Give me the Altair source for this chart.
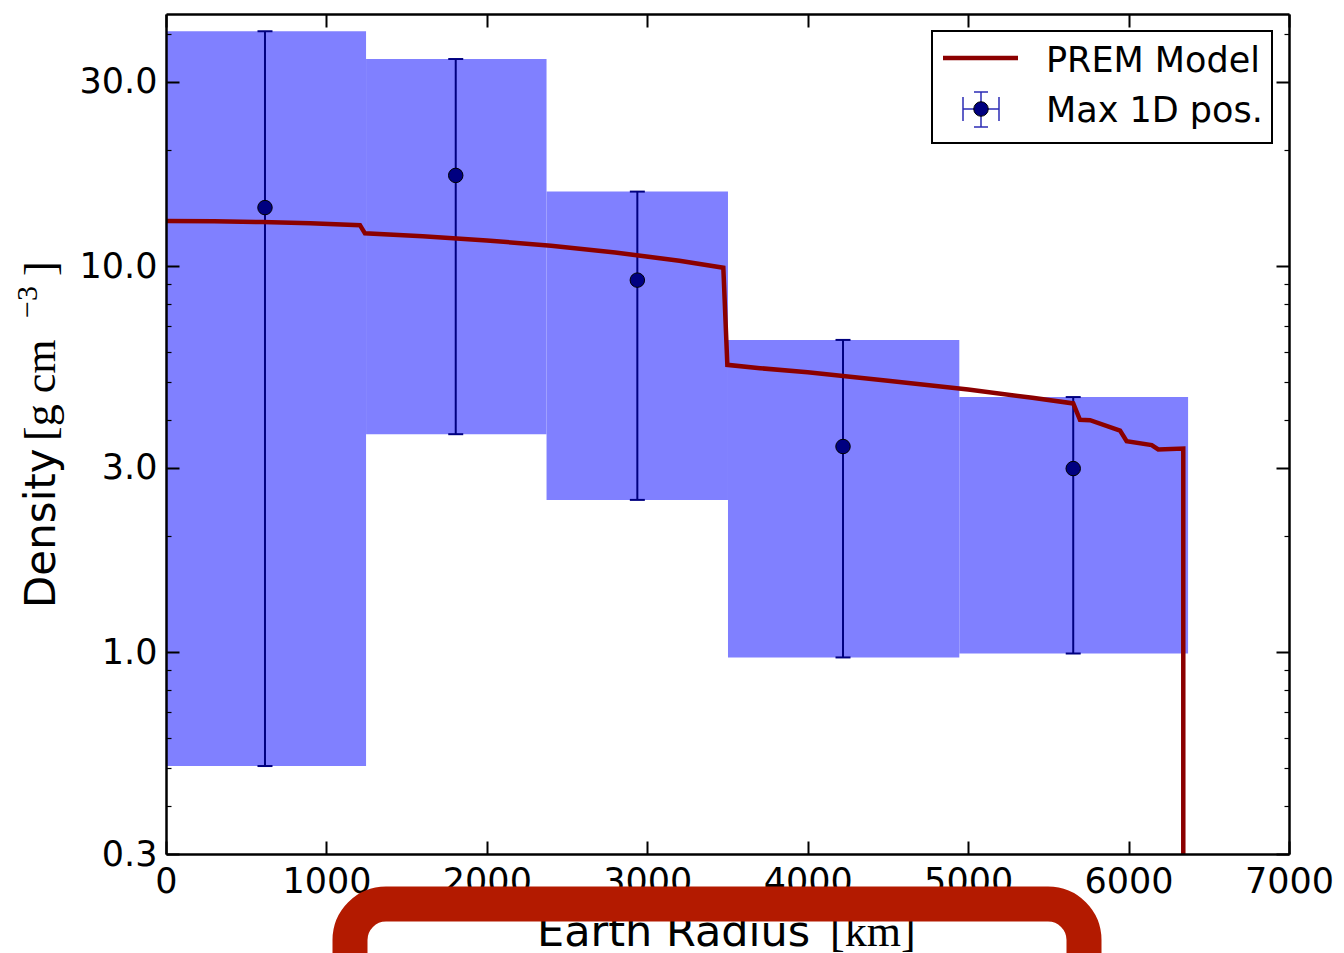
import altair as alt
import pandas as pd

# ---------------- data ----------------
bin_lo_km = [0, 1247, 2372, 3503, 4945]
bin_hi_km = [1247, 2372, 3503, 4945, 6371]
dens_lo = [0.507, 3.67, 2.48, 0.969, 0.992]
dens_hi = [40.6, 34.4, 15.6, 6.44, 4.58]
point_km = [617, 1806, 2938, 4220, 5655]
point_dens = [14.18, 17.18, 9.20, 3.41, 2.99]

prem_km = [0, 300, 600, 900, 1209, 1240, 1600, 2000, 2400, 2800, 3200, 3474,
           3499, 3703, 4000, 4500, 5000, 5400, 5655, 5697, 5760, 5947, 5988,
           6144, 6185, 6341, 6341]
prem_dens = [13.09, 13.07, 13.01, 12.91, 12.77, 12.16, 11.95, 11.66, 11.29,
             10.85, 10.33, 9.91, 5.55, 5.44, 5.31, 5.05, 4.79, 4.56, 4.41,
             4.00, 3.99, 3.75, 3.52, 3.44, 3.35, 3.37, 0.01]

x_ticks = [0, 1000, 2000, 3000, 4000, 5000, 6000, 7000]
y_major = [0.3, 1, 3, 10, 30]
y_minor = [0.4, 0.5, 0.6, 0.7, 0.8, 0.9, 2, 4, 5, 6, 7, 8, 9, 20, 40]
x_domain = [0, 7000]
y_domain = [0.3, 45]

legend_labels = ["PREM Model", "Max 1D pos."]
x_title = ["Earth Radius", "[km]"]
y_title = ["Density", "[g cm", "\u22123", "]"]

# ---------------- tables ----------------
df_bins = pd.DataFrame({"lo_km": bin_lo_km, "hi_km": bin_hi_km,
                        "lo": dens_lo, "hi": dens_hi})
df_pts = pd.DataFrame({"km": point_km, "d": point_dens,
                       "lo": dens_lo, "hi": dens_hi})
df_caps = pd.DataFrame({"km": point_km + point_km, "v": dens_lo + dens_hi})
df_prem = pd.DataFrame({"km": prem_km, "rho": prem_dens,
                        "i": list(range(len(prem_km)))})
one = pd.DataFrame({"k": [0]})

W, H = 1123, 840
SANS = "DejaVu Sans"
SERIF = "Liberation Serif"
NAVY = "#000080"
RED = "#8b0000"

xs = alt.Scale(domain=x_domain, nice=False, zero=False)
ys = alt.Scale(type="log", domain=y_domain, nice=False)

major_test = "indexof(" + str(y_major) + ", datum.value) >= 0"
tick_size = {"condition": {"test": major_test, "value": 13}, "value": 5}
tick_width = {"condition": {"test": major_test, "value": 2}, "value": 1.2}
y_all = sorted(y_major + y_minor)

ax_x_labels = alt.Axis(orient="bottom", values=x_ticks, format="d", ticks=False,
                       tickSize=0, domain=False, grid=False, labelFlush=False,
                       labelOverlap=False, labelPadding=10, labelFontSize=35,
                       labelFont=SANS, labelColor="black", title=None)
ax_y_labels = alt.Axis(orient="left", values=y_major, format=".1f", ticks=False,
                       tickSize=0, domain=False, grid=False, labelOverlap=False,
                       labelPadding=9, labelFontSize=35, labelFont=SANS,
                       labelColor="black", title=None)
ax_y_in_left = alt.Axis(orient="right", offset=-W, values=y_all, labels=False,
                        tickSize=tick_size, tickWidth=tick_width, tickColor="black",
                        domain=True, domainColor="black", domainWidth=2.5,
                        grid=False, title=None, zindex=2)
ax_y_in_right = alt.Axis(orient="left", offset=-W, values=y_all, labels=False,
                         tickSize=tick_size, tickWidth=tick_width, tickColor="black",
                         domain=True, domainColor="black", domainWidth=2.5,
                         grid=False, title=None, zindex=2)
ax_x_in_bottom = alt.Axis(orient="top", offset=-H, values=x_ticks, labels=False,
                          tickSize=13, tickWidth=2, tickColor="black",
                          domain=True, domainColor="black", domainWidth=2.5,
                          grid=False, title=None, zindex=2)
ax_x_in_top = alt.Axis(orient="bottom", offset=-H, values=x_ticks, labels=False,
                       tickSize=13, tickWidth=2, tickColor="black",
                       domain=True, domainColor="black", domainWidth=2.5,
                       grid=False, title=None, zindex=2)

boxes = alt.Chart(df_bins).mark_rect(color="#8080ff", opacity=1).encode(
    x=alt.X("lo_km:Q", scale=xs, axis=ax_x_labels),
    x2="hi_km:Q",
    y=alt.Y("lo:Q", scale=ys, axis=ax_y_labels),
    y2="hi:Q",
)

errbars = alt.Chart(df_pts).mark_rule(color=NAVY, strokeWidth=2).encode(
    x=alt.X("km:Q", scale=xs, axis=ax_x_in_bottom),
    y=alt.Y("lo:Q", scale=ys, axis=ax_y_in_left),
    y2="hi:Q",
)

caps = alt.Chart(df_caps).mark_tick(orient="horizontal", size=15, thickness=2,
                                    color=NAVY, opacity=1).encode(
    x=alt.X("km:Q", scale=xs, axis=None),
    y=alt.Y("v:Q", scale=ys, axis=None),
)

prem = alt.Chart(df_prem).mark_line(color=RED, strokeWidth=4.5, clip=True).encode(
    x=alt.X("km:Q", scale=xs, axis=ax_x_in_top),
    y=alt.Y("rho:Q", scale=ys, axis=ax_y_in_right),
    order="i:Q",
)

points = alt.Chart(df_pts).mark_circle(color=NAVY, stroke="black", strokeWidth=1,
                                       size=210, opacity=1).encode(
    x=alt.X("km:Q", scale=xs, axis=None),
    y=alt.Y("d:Q", scale=ys, axis=None),
)

# ---------------- legend ----------------
base = alt.Chart(one)
leg_box = base.mark_rect(fill="white", stroke="black", strokeWidth=2).encode(
    x=alt.value(766), x2=alt.value(1106), y=alt.value(17), y2=alt.value(129))
leg_line = base.mark_rule(color=RED, strokeWidth=4.5).encode(
    x=alt.value(777), x2=alt.value(852), y=alt.value(44))
LB = "#2b2bb5"
leg_h = base.mark_rule(color=LB, strokeWidth=1.5).encode(
    x=alt.value(797), x2=alt.value(833), y=alt.value(95))
leg_v = base.mark_rule(color=LB, strokeWidth=1.5).encode(
    x=alt.value(815), y=alt.value(78), y2=alt.value(113))
leg_c1 = base.mark_rule(color=LB, strokeWidth=1.5).encode(
    x=alt.value(808), x2=alt.value(822), y=alt.value(78))
leg_c2 = base.mark_rule(color=LB, strokeWidth=1.5).encode(
    x=alt.value(808), x2=alt.value(822), y=alt.value(113))
leg_c3 = base.mark_rule(color=LB, strokeWidth=1.5).encode(
    x=alt.value(797), y=alt.value(83), y2=alt.value(107))
leg_c4 = base.mark_rule(color=LB, strokeWidth=1.5).encode(
    x=alt.value(833), y=alt.value(83), y2=alt.value(107))
leg_pt = base.mark_circle(color=NAVY, stroke="black", strokeWidth=1, size=210,
                          opacity=1).encode(x=alt.value(815), y=alt.value(95))
leg_t1 = base.mark_text(align="left", baseline="alphabetic", font=SANS,
                        fontSize=35, color="black").encode(
    x=alt.value(880), y=alt.value(58), text=alt.value(legend_labels[0]))
leg_t2 = base.mark_text(align="left", baseline="alphabetic", font=SANS,
                        fontSize=35, color="black").encode(
    x=alt.value(880), y=alt.value(108), text=alt.value(legend_labels[1]))

# ---------------- axis titles ----------------
xt1 = base.mark_text(align="left", baseline="alphabetic", font=SANS,
                     fontSize=43, color="black").encode(
    x=alt.value(371), y=alt.value(932), text=alt.value(x_title[0]))
xt2 = base.mark_text(align="left", baseline="alphabetic", font=SERIF,
                     fontSize=44, color="black").encode(
    x=alt.value(664), y=alt.value(932), text=alt.value(x_title[1]))
yt1 = base.mark_text(align="left", baseline="alphabetic", angle=270, font=SANS,
                     fontSize=42, color="black").encode(
    x=alt.value(-111), y=alt.value(594), text=alt.value(y_title[0]))
yt2 = base.mark_text(align="left", baseline="alphabetic", angle=270, font=SERIF,
                     fontSize=44, color="black").encode(
    x=alt.value(-111), y=alt.value(427), text=alt.value(y_title[1]))
yt3 = base.mark_text(align="left", baseline="alphabetic", angle=270, font=SERIF,
                     fontSize=30, color="black").encode(
    x=alt.value(-129), y=alt.value(304), text=alt.value(y_title[2]))
yt4 = base.mark_text(align="left", baseline="alphabetic", angle=270, font=SERIF,
                     fontSize=44, color="black").encode(
    x=alt.value(-111), y=alt.value(262), text=alt.value(y_title[3]))

# ---------------- red highlight frame ----------------
frame = base.mark_rect(fill="transparent", stroke="#b31a00", strokeWidth=35,
                       cornerRadius=36).encode(
    x=alt.value(184), x2=alt.value(918), y=alt.value(890), y2=alt.value(990))

chart = alt.layer(
    boxes, errbars, caps, prem, points,
    leg_box, leg_line, leg_h, leg_v, leg_c1, leg_c2, leg_c3, leg_c4, leg_pt,
    leg_t1, leg_t2, xt1, xt2, yt1, yt2, yt3, yt4, frame,
).resolve_axis(x="independent", y="independent").properties(
    width=W, height=H,
    autosize=alt.AutoSizeParams(type="none"),
    padding={"left": 158, "top": 6, "right": 45, "bottom": 175},
).configure_view(strokeWidth=0).configure(background="white")

chart.save("out.html", embed_options={"renderer": "svg", "actions": False})
